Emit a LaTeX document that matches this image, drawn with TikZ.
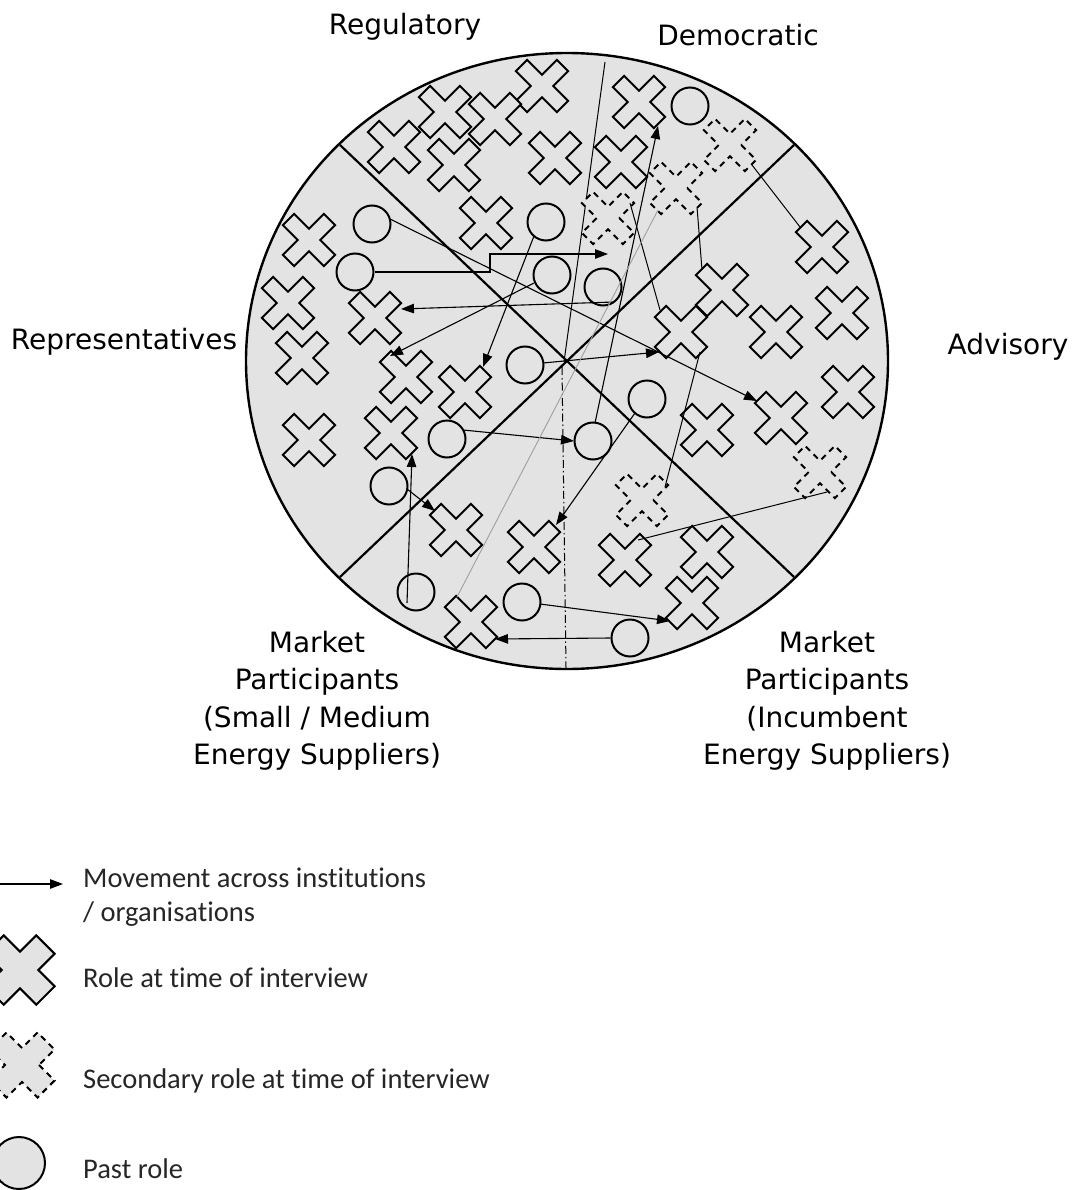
\documentclass[tikz,border=0pt]{standalone}
\usepackage{fontspec}
\setmainfont[Ligatures=NoCommon]{Carlito}
\newfontfamily\labfont{DejaVu Sans}
\usetikzlibrary{arrows.meta,calc}
\definecolor{bgfill}{RGB}{227,227,227}
\tikzset{
  xnode/.style={circle, minimum size=44pt, inner sep=0pt},
  xline/.style={line width=2pt, fill=bgfill, line join=miter},
  dxline/.style={line width=2pt, fill=bgfill, dash pattern=on 6pt off 5pt},
  pastc/.style={circle, draw, line width=2pt, fill=bgfill, minimum size=37pt, inner sep=0pt},
  arr/.style={line width=1.1pt, -{Triangle[length=13pt,width=9.5pt]}},
  ln/.style={line width=1pt},
  gln/.style={line width=0.9pt, gray!75},
  divider/.style={line width=2.2pt},
  lab/.style={font=\labfont\fontsize{28}{37.5}\selectfont, inner sep=0pt, text=black},
  leg/.style={font=\fontsize{28.5}{34}\selectfont, inner sep=0pt, text=black!85},
}
\newcommand\RoleX[2]{%
  \node[xnode] (#1) at (#2) {};
  \draw[xline, shift={(#2)}, rotate=45] (8,8) -- (8,29) -- (-8,29) -- (-8,8) -- (-29,8) -- (-29,-8) -- (-8,-8) -- (-8,-29) -- (8,-29) -- (8,-8) -- (29,-8) -- (29,8) -- cycle;}
\newcommand\SecX[2]{%
  \node[xnode] (#1) at (#2) {};
  \draw[dxline, shift={(#2)}, rotate=45] (8,8) -- (8,29) -- (-8,29) -- (-8,8) -- (-29,8) -- (-29,-8) -- (-8,-8) -- (-8,-29) -- (8,-29) -- (8,-8) -- (29,-8) -- (29,8) -- cycle;}
\begin{document}
\begin{tikzpicture}[x=1pt, y=-1pt]
\useasboundingbox (0,0) rectangle (1081,1190);
\clip (0,0) rectangle (1081,1190);
\fill[white] (0,0) rectangle (1081,1190);

% main disc
\coordinate (O) at (567,361);
\draw[line width=2.4pt, fill=bgfill] (O) ellipse [x radius=321pt, y radius=308pt];
\coordinate (NW) at (340,145);
\coordinate (SE) at (794,577);
\coordinate (SW) at (340,577);
\coordinate (NE) at (794,145);
\draw[divider] (NW) -- (SE);
\draw[divider] (SW) -- (NE);
\coordinate (Ntop) at (605,62);
\coordinate (Omid) at (564,362);
\coordinate (Odash) at (562,367);
\coordinate (Sbot) at (566,668);
\draw[line width=1pt] (Ntop) -- (Omid);
\draw[line width=1pt, dash pattern=on 8pt off 3pt on 1.5pt off 3pt] (Odash) -- (Sbot);

% roles at time of interview
\RoleX{X1}{542,86}
\RoleX{X2}{445,112}
\RoleX{X3}{495,119}
\RoleX{X4}{394,147}
\RoleX{X5}{454,165}
\RoleX{X6}{555,158}
\RoleX{X7}{486,223}
\RoleX{X8}{639,102}
\RoleX{X9}{621,162}
\RoleX{X10}{822,247}
\RoleX{X11}{722,290}
\RoleX{X12}{842,313}
\RoleX{X13}{776,332}
\RoleX{X14}{681,332}
\RoleX{X15}{848,392}
\RoleX{X16}{781,418}
\RoleX{X17}{707,430}
\RoleX{X18}{309,240}
\RoleX{X19}{288,303}
\RoleX{X20}{375,318}
\RoleX{X21}{302,358}
\RoleX{X22}{406,377}
\RoleX{X23}{465,392}
\RoleX{X24}{309,440}
\RoleX{X25}{391,433}
\RoleX{X26}{456,530}
\RoleX{X27}{534,547}
\RoleX{X28}{625,560}
\RoleX{X29}{707,552}
\RoleX{X30}{692,603}
\RoleX{X31}{471,622}

% secondary roles
\SecX{D1}{608,218}
\SecX{D2}{676,188}
\SecX{D3}{730,145}
\SecX{D4}{820,472}
\SecX{D5}{642,500}

% past roles
\node[pastc] (C1) at (690,106) {};
\node[pastc] (C2) at (546,222) {};
\node[pastc] (C3) at (372,224) {};
\node[pastc] (C4) at (355,272) {};
\node[pastc] (C5) at (552,275) {};
\node[pastc] (C6) at (603,287) {};
\node[pastc] (C7) at (525,365) {};
\node[pastc] (C8) at (647,399) {};
\node[pastc] (C9) at (593,441) {};
\node[pastc] (C10) at (447,439) {};
\node[pastc] (C11) at (389,486) {};
\node[pastc] (C12) at (416,592) {};
\node[pastc] (C13) at (522,602) {};
\node[pastc] (C14) at (630,638) {};

% movements
\draw[arr] ($(C3)+(18,-5)$) -- ($(X16)+(-24,-17)$);
\draw[arr] (C4.east) -| ($(D1)+(-118,36)$) -- ($(D1)+(0,36)$);
\draw[arr] ($(C6)+(11,15)$) -- ($(X20)+(26,-9)$);
\draw[arr] ($(C5)+(-18,8)$) -- ($(X22)+(-16,-21)$);
\draw[arr] ($(C2)+(-12,14)$) -- ($(X23)+(18,-25)$);
\draw[arr] ($(C9)+(2,-18)$) -- ($(X8)+(19,24)$);
\draw[arr] ($(C8)+(-12,14)$) -- ($(X27)+(22,-22)$);
\draw[arr] ($(C7)+(18,-2)$) -- ($(X14)+(-22,20)$);
\draw[arr] ($(C10)+(16,-9)$) -- ($(C9)+(-19,0)$);
\draw[arr] ($(C12)+(-9,11)$) -- ($(X25)+(21,21)$);
\draw[arr] ($(C11)+(18,3)$) -- ($(X26)+(-21,-19)$);
\draw[arr] ($(C13)+(18,2)$) -- ($(X30)+(-22,18)$);
\draw[arr] (C14.west) -- ($(X31)+(24,17)$);

% links between roles
\draw[ln] ($(D1)+(22,-15)$) -- ($(X14)+(-21,-22)$);
\draw[ln] ($(D2)+(21,19)$) -- ($(X11)+(-20,-20)$);
\draw[ln] ($(D3)+(22,20)$) -- ($(X10)+(-22,-20)$);
\draw[ln] ($(D4)+(7,20)$) -- ($(X28)+(13,-20)$);
\draw[ln] ($(X14)+(19,20)$) -- ($(D5)+(23,-13)$);
\draw[gln] ($(D2)+(-18,22)$) -- ($(X31)+(-14,-25)$);

% sector labels
\node[lab, anchor=base] (tReg) at (405,35) {Regulatory};
\node[lab, anchor=base] (tDem) at (738,46) {Democratic};
\node[lab, anchor=base] (tRep) at (124,349) {Representatives};
\node[lab, anchor=base] (tAdv) at (1008,354) {Advisory};
\node[lab, align=center, anchor=north] (tMPs) at (317,631) {Market\\Participants\\(Small / Medium\\Energy Suppliers)};
\node[lab, align=center, anchor=north] (tMPi) at (827,631) {Market\\Participants\\(Incumbent\\Energy Suppliers)};

% legend
\coordinate (legS) at (-2,884);
\coordinate (legE) at (63,884);
\draw[arr] (legS) -- (legE);
\node[leg, align=left, anchor=north west] (tL1) at (83,868) {Movement across institutions\\/ organisations};
\node[xnode] (LX) at (20,970) {};
\draw[xline, shift={(20,970)}, rotate=45] (13,13) -- (13,36) -- (-13,36) -- (-13,13) -- (-36,13) -- (-36,-13) -- (-13,-13) -- (-13,-36) -- (13,-36) -- (13,-13) -- (36,-13) -- (36,13) -- cycle;
\node[leg, anchor=base west] (tL2) at (83,987) {Role at time of interview};
\node[xnode] (LD) at (22,1065) {};
\draw[dxline, shift={(22,1065)}, rotate=45] (12,12) -- (12,34) -- (-12,34) -- (-12,12) -- (-34,12) -- (-34,-12) -- (-12,-12) -- (-12,-34) -- (12,-34) -- (12,-12) -- (34,-12) -- (34,12) -- cycle;
\node[leg, anchor=base west] (tL3) at (83,1088) {Secondary role at time of interview};
\node[circle, draw, line width=2pt, fill=bgfill, minimum size=52pt, inner sep=0pt] (LC) at (19,1163) {};
\node[leg, anchor=base west] (tL4) at (83,1178) {Past role};
\end{tikzpicture}
\end{document}
